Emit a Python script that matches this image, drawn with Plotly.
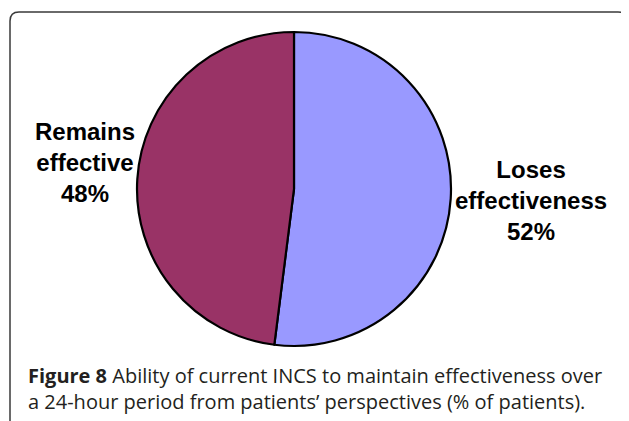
import plotly.graph_objects as go

labels = ["Loses<br>effectiveness", "Remains<br>effective"]
values = [52, 48]
colors = ["#9999FF", "#993366"]
caption_bold = "Figure 8"
caption_text = ("Ability of current INCS to maintain effectiveness over<br>"
                "a 24-hour period from patients\u2019 perspectives (% of patients).")

# page body has an 8px margin, so the figure is 8px smaller than the window
W, H = 621, 413

fig = go.Figure()
fig.add_trace(go.Pie(
    labels=labels, values=values, sort=False, direction="clockwise", rotation=0,
    marker=dict(colors=colors, line=dict(color="black", width=2.2)),
    textinfo="none", hoverinfo="label+percent", showlegend=False,
    domain=dict(x=[0.2077, 0.7134], y=[0.1816, 0.9419]),
))

label_pos = [(0.8422, 0.5327), (0.124, 0.626)]
for lab, val, (ax, ay) in zip(labels, values, label_pos):
    fig.add_annotation(
        x=ax, y=ay, xref="paper", yref="paper", xanchor="center", yanchor="middle",
        text=f"<b>{lab}<br>{val}%</b>", showarrow=False, align="center",
        font=dict(family="Liberation Sans, Arial, sans-serif", size=24, color="black"),
    )

fig.add_annotation(
    x=0.029, y=0.0799, xref="paper", yref="paper", xanchor="left", yanchor="middle",
    text=f"<b>{caption_bold}</b> {caption_text}", showarrow=False, align="left",
    font=dict(family="Open Sans, sans-serif", size=20, color="#231F20"),
)

# rounded frame around the figure panel
x0, y0, x1, y1, r = 2, 4, 619, 440, 9
path = (f"M {x0/W},{1-(y0+r)/H} L {x0/W},{1-y1/H} "
        f"M {x0/W},{1-(y0+r)/H} Q {x0/W},{1-y0/H} {(x0+r)/W},{1-y0/H} "
        f"L {(x1-r)/W},{1-y0/H} Q {x1/W},{1-y0/H} {x1/W},{1-(y0+r)/H} L {x1/W},{1-y1/H}")
fig.add_shape(type="path", path=path, xref="paper", yref="paper",
              line=dict(color="#3a3a3a", width=1.5))

fig.update_layout(
    width=W, height=H, margin=dict(l=0, r=0, t=0, b=0),
    paper_bgcolor="white", plot_bgcolor="white",
)
fig.write_html("out.html")
